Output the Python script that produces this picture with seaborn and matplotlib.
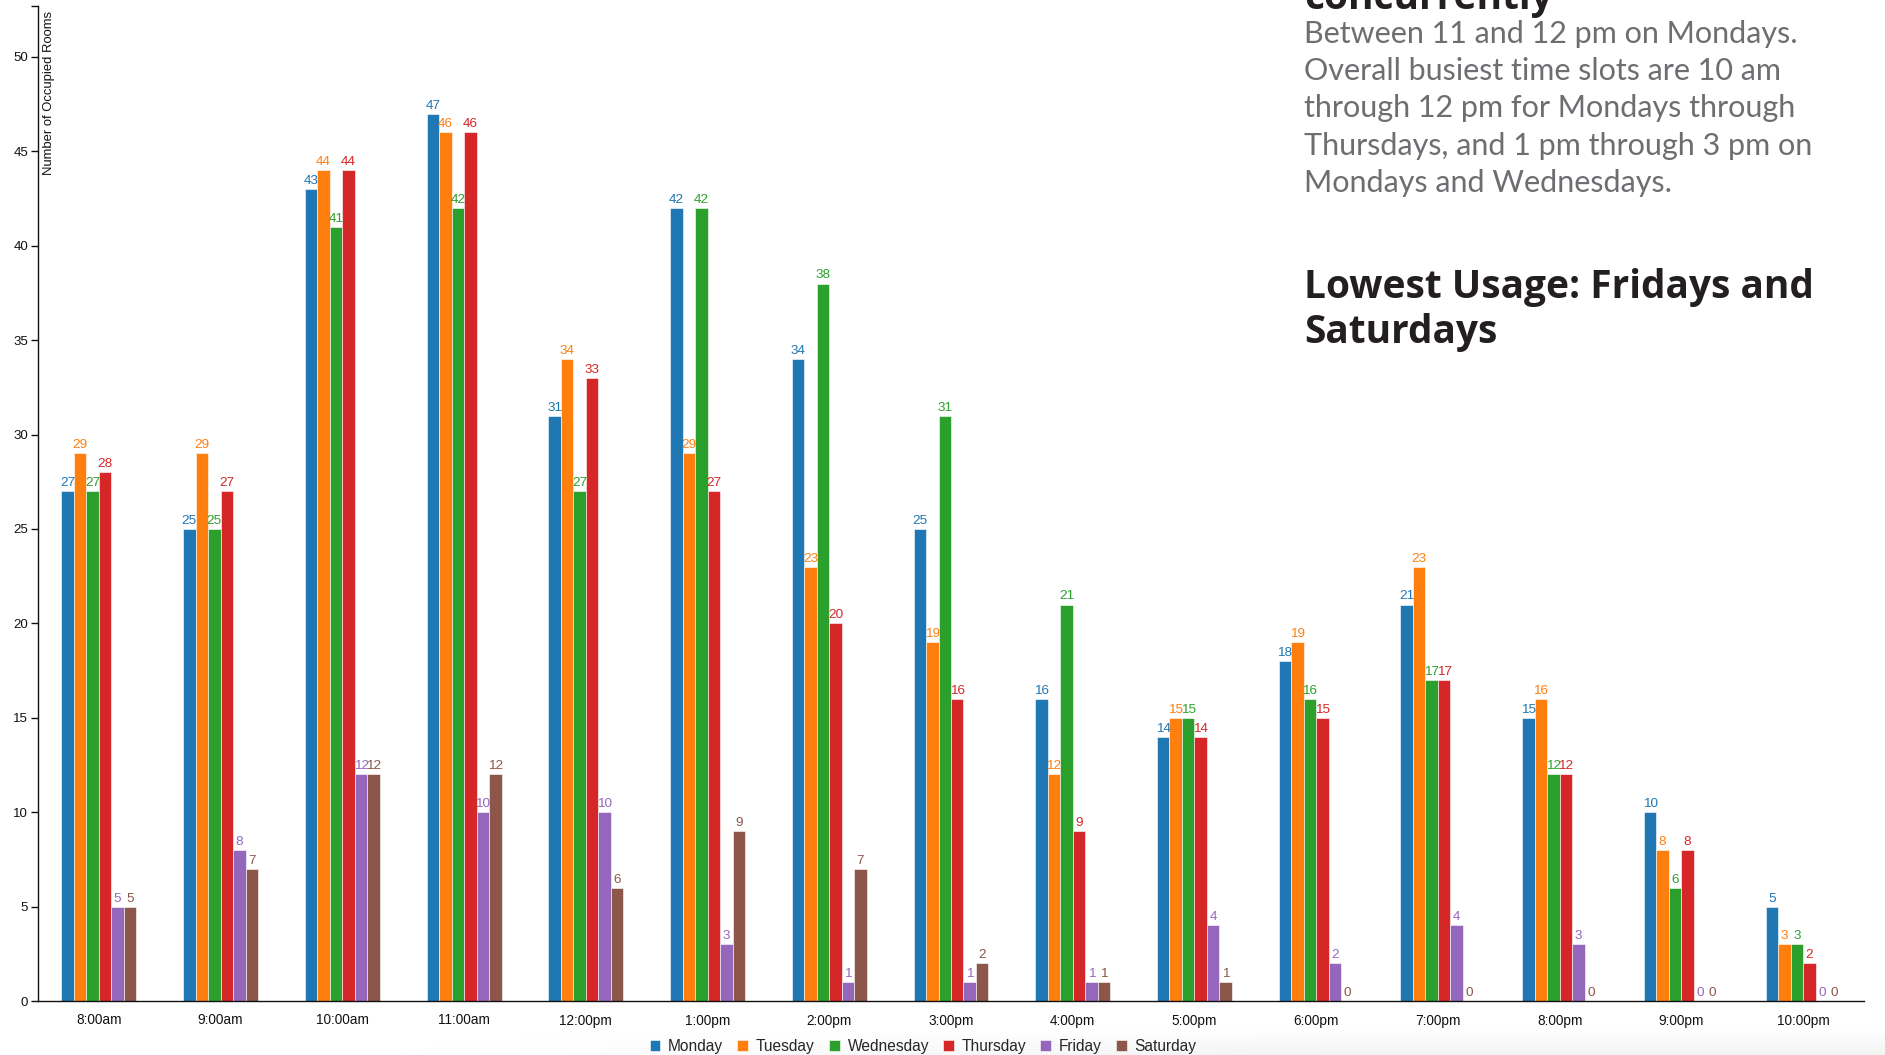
import matplotlib
matplotlib.use("Agg")
import matplotlib.pyplot as plt
import numpy as np
import pandas as pd
import seaborn as sns

times = ['8:00am', '9:00am', '10:00am', '11:00am', '12:00pm', '1:00pm', '2:00pm', '3:00pm',
         '4:00pm', '5:00pm', '6:00pm', '7:00pm', '8:00pm', '9:00pm', '10:00pm']
days = ['Monday', 'Tuesday', 'Wednesday', 'Thursday', 'Friday', 'Saturday']

monday = [27, 25, 43, 47, 31, 42, 34, 25, 16, 14, 18, 21, 15, 10, 5]
tuesday = [29, 29, 44, 46, 34, 29, 23, 19, 12, 15, 19, 23, 16, 8, 3]
wednesday = [27, 25, 41, 42, 27, 42, 38, 31, 21, 15, 16, 17, 12, 6, 3]
thursday = [28, 27, 44, 46, 33, 27, 20, 16, 9, 14, 15, 17, 12, 8, 2]
friday = [5, 8, 12, 10, 10, 3, 1, 1, 1, 4, 2, 4, 3, 0, 0]
saturday = [5, 7, 12, 12, 6, 9, 7, 2, 1, 1, 0, 0, 0, 0, 0]

colors = ['#1f77b4', '#ff7f0e', '#2ca02c', '#d62728', '#9467bd', '#8c564b']


def main():
    series = [monday, tuesday, wednesday, thursday, friday, saturday]
    rows = []
    for day, vals in zip(days, series):
        for t, v in zip(times, vals):
            rows.append({'time': t, 'day': day, 'rooms': v})
    df = pd.DataFrame(rows)

    sns.set_style('white')
    plt.rcParams['font.family'] = ['Liberation Sans', 'DejaVu Sans']

    W, H = 1885, 1055
    fig = plt.figure(figsize=(W / 100, H / 100), dpi=100)

    # faint grey shade along the bottom edge
    bg = fig.add_axes([0, 0, 1, 28 / H], zorder=-5)
    yy = np.linspace(1, 0, 28)[:, None]
    xx = np.clip(np.linspace(-0.3, 1.5, 400)[None, :], 0, 1)
    shade = (1 - yy) * xx * 0.05
    bg.imshow(1 - shade, cmap='gray', vmin=0, vmax=1, aspect='auto', extent=(0, 1, 0, 1))
    bg.axis('off')

    ax = fig.add_axes([38 / W, 1 - 1001 / H, (1864 - 38) / W, (1001 - 6) / H])
    ax.patch.set_alpha(0)

    sns.barplot(data=df, x='time', y='rooms', hue='day', order=times, hue_order=days,
                palette=colors, width=0.616, errorbar=None, saturation=1,
                edgecolor='white', linewidth=0.4, ax=ax)

    for cont, c in zip(ax.containers, colors):
        ax.bar_label(cont, padding=1.5, color=c, fontsize=9.7)

    ax.set_xlim(-0.5, len(times) - 0.5)
    ax.set_ylim(0, 52.7)
    ax.set_yticks(np.arange(0, 51, 5))
    ax.set_xlabel('')
    ax.set_ylabel('')
    ax.set_xticks(np.arange(-0.5, len(times), 1), minor=True)
    ax.tick_params(axis='x', which='major', length=0, pad=9, labelsize=9.8, colors='#111111')
    ax.tick_params(axis='x', which='minor', length=6, width=1, direction='out', color='#111111')
    ax.tick_params(axis='y', length=5, width=1, direction='out', pad=2, labelsize=9.5,
                   colors='#111111', left=True)
    ax.set_yticks([52.7], minor=True)
    ax.tick_params(axis='y', which='minor', length=5, width=1, left=True, color='#111111')
    sns.despine(ax=ax)
    for s in ['left', 'bottom']:
        ax.spines[s].set_color('#111111')
        ax.spines[s].set_linewidth(1.0)

    ax.text(11 / (1864 - 38), 1 - 5 / (1001 - 6), 'Number of Occupied Rooms',
            transform=ax.transAxes, rotation=90, ha='center', va='top', fontsize=9.4,
            color='#111111')

    sns.move_legend(ax, 'center', bbox_to_anchor=(923 / W, 1 - 1046 / H),
                    bbox_transform=fig.transFigure, ncol=6, frameon=False, title=None,
                    fontsize=11.2, handlelength=0.7, handleheight=0.7, handletextpad=0.5,
                    columnspacing=0.9, borderaxespad=0)

    # annotation text on the right
    x0 = 1304 / W
    head = ['Open Sans', 'DejaVu Sans']
    body = ['Lato', 'DejaVu Sans']
    fig.text(x0, 1 - 9 / H, 'concurrently', fontsize=28, fontweight='bold', color='#231f20',
             family=head, va='baseline')
    para = ['Between 11 and 12 pm on Mondays.',
            'Overall busiest time slots are 10 am',
            'through 12 pm for Mondays through',
            'Thursdays, and 1 pm through 3 pm on',
            'Mondays and Wednesdays.']
    for i, line in enumerate(para):
        fig.text(x0, 1 - (43 + 37.2 * i) / H, line, fontsize=22, color='#6d6e71',
                 family=body, va='baseline')
    for i, line in enumerate(['Lowest Usage: Fridays and', 'Saturdays']):
        fig.text(x0, 1 - (298 + 45 * i) / H, line, fontsize=28, fontweight='bold',
                 color='#231f20', family=head, va='baseline')

    fig.savefig('out.png', dpi=100)


if __name__ == "__main__":
    main()
